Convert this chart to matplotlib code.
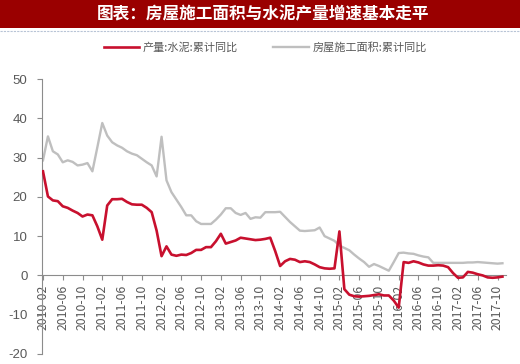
import pandas as pd
import numpy as np
import matplotlib
matplotlib.use('Agg')
import matplotlib.pyplot as plt
from matplotlib.patches import Rectangle
from matplotlib.lines import Line2D

plt.rcParams['font.family'] = ['Noto Sans CJK SC', 'DejaVu Sans']
plt.rcParams['axes.unicode_minus'] = False

# 月份 2010-02 ~ 2017-11
months = pd.date_range('2010-02-01', periods=94, freq='MS').strftime('%Y-%m').tolist()

# 产量:水泥:累计同比
cement = [26.5, 20.1, 19.1, 18.9, 17.6, 17.2, 16.5, 15.9, 15.0, 15.5,
          15.3, 12.5, 9.1, 17.8, 19.4, 19.4, 19.5, 18.7, 18.1, 18.0,
          18.0, 17.2, 16.1, 11.4, 4.9, 7.4, 5.3, 5.0, 5.3, 5.2,
          5.7, 6.5, 6.5, 7.2, 7.2, 8.7, 10.6, 8.1, 8.5, 8.9,
          9.6, 9.4, 9.2, 9.0, 9.1, 9.3, 9.6, 6.2, 2.4, 3.6,
          4.2, 4.0, 3.4, 3.6, 3.4, 2.8, 2.1, 1.8, 1.7, 1.8,
          11.2, -3.5, -4.9, -5.3, -5.4, -5.3, -5.2, -5.0, -4.8, -5.1,
          -5.1, -6.4, -8.2, 3.4, 3.2, 3.6, 3.3, 2.8, 2.5, 2.5,
          2.6, 2.5, 2.1, 0.6, -0.6, -0.5, 0.9, 0.7, 0.3, 0.0,
          -0.5, -0.6, -0.5, -0.3]

# 房屋施工面积:累计同比
floor_area = [29.3, 35.4, 31.6, 30.8, 28.8, 29.3, 28.9, 28.0, 28.2, 28.6,
              26.5, 32.6, 38.8, 35.6, 33.9, 33.1, 32.5, 31.6, 31.0, 30.6,
              29.7, 28.8, 28.0, 25.2, 35.3, 24.2, 21.2, 19.3, 17.4, 15.3,
              15.3, 13.8, 13.1, 13.1, 13.1, 14.2, 15.5, 17.1, 17.1, 15.9,
              15.4, 15.9, 14.4, 14.8, 14.7, 16.1, 16.1, 16.1, 16.2, 14.9,
              13.6, 12.5, 11.4, 11.3, 11.4, 11.5, 12.2, 10.0, 9.4, 8.8,
              7.6, 7.0, 6.4, 5.3, 4.3, 3.4, 2.2, 2.9, 2.4, 1.8,
              1.2, 3.4, 5.7, 5.8, 5.6, 5.5, 5.1, 4.8, 4.6, 3.2,
              3.2, 3.2, 3.2, 3.2, 3.2, 3.2, 3.3, 3.3, 3.4, 3.3,
              3.2, 3.1, 3.0, 3.1]

title = '图表：房屋施工面积与水泥产量增速基本走平'
label_cement = '产量:水泥:累计同比'
label_area = '房屋施工面积:累计同比'

red = '#C8102E'
grey = '#BFBFBF'
axis_grey = '#8C8C8C'
text_grey = '#595959'

fig = plt.figure(figsize=(5.2, 3.64), dpi=100)
fig.patch.set_facecolor('white')

# 标题横幅
fig.patches.append(Rectangle((0, 0.923), 1, 0.077, transform=fig.transFigure,
                             facecolor='#9A0000', edgecolor='none', zorder=0))
fig.text(0.505, 0.961, title, color='white', fontsize=12, fontweight='bold',
         ha='center', va='center')
fig.add_artist(Line2D([0, 1], [0.914, 0.914], transform=fig.transFigure,
                      color='#B8C4D6', lw=0.8, ls=(0, (2, 1))))

x = np.arange(len(months))
ax = fig.add_axes([42 / 520, 10 / 364, 464.4 / 520, 275 / 364])
ax.plot(x, cement, color=red, lw=1.9, label=label_cement, zorder=3)
ax.plot(x, floor_area, color=grey, lw=1.7, label=label_area, zorder=2)

ax.set_xlim(-0.2, 93.8)
ax.set_ylim(-20, 50)
ax.set_yticks(range(-20, 51, 10))
ax.set_xticks(x[::4])
ax.set_xticklabels(months[::4])
ax.tick_params(axis='y', labelsize=9.5, labelcolor=text_grey, color=axis_grey,
               length=3.5, width=0.8, pad=7)
ax.tick_params(axis='x', labelsize=8.8, labelcolor=text_grey, color=axis_grey,
               length=3.5, width=0.8, pad=3, labelrotation=90)
for t in ax.get_xticklabels() + ax.get_yticklabels():
    t.set_family('Liberation Sans')

for s in ['top', 'right']:
    ax.spines[s].set_visible(False)
ax.spines['left'].set_color(axis_grey)
ax.spines['bottom'].set_color(axis_grey)
ax.spines['bottom'].set_position(('data', 0))
ax.spines['left'].set_linewidth(0.8)
ax.spines['bottom'].set_linewidth(0.8)
ax.set_facecolor('none')

fig.legend(loc='center', bbox_to_anchor=(0.51, 0.87), ncol=2, frameon=False,
           fontsize=8, handlelength=3.2, columnspacing=3.2, handletextpad=0.3,
           labelcolor=text_grey)

plt.savefig('out.png', dpi=100)
